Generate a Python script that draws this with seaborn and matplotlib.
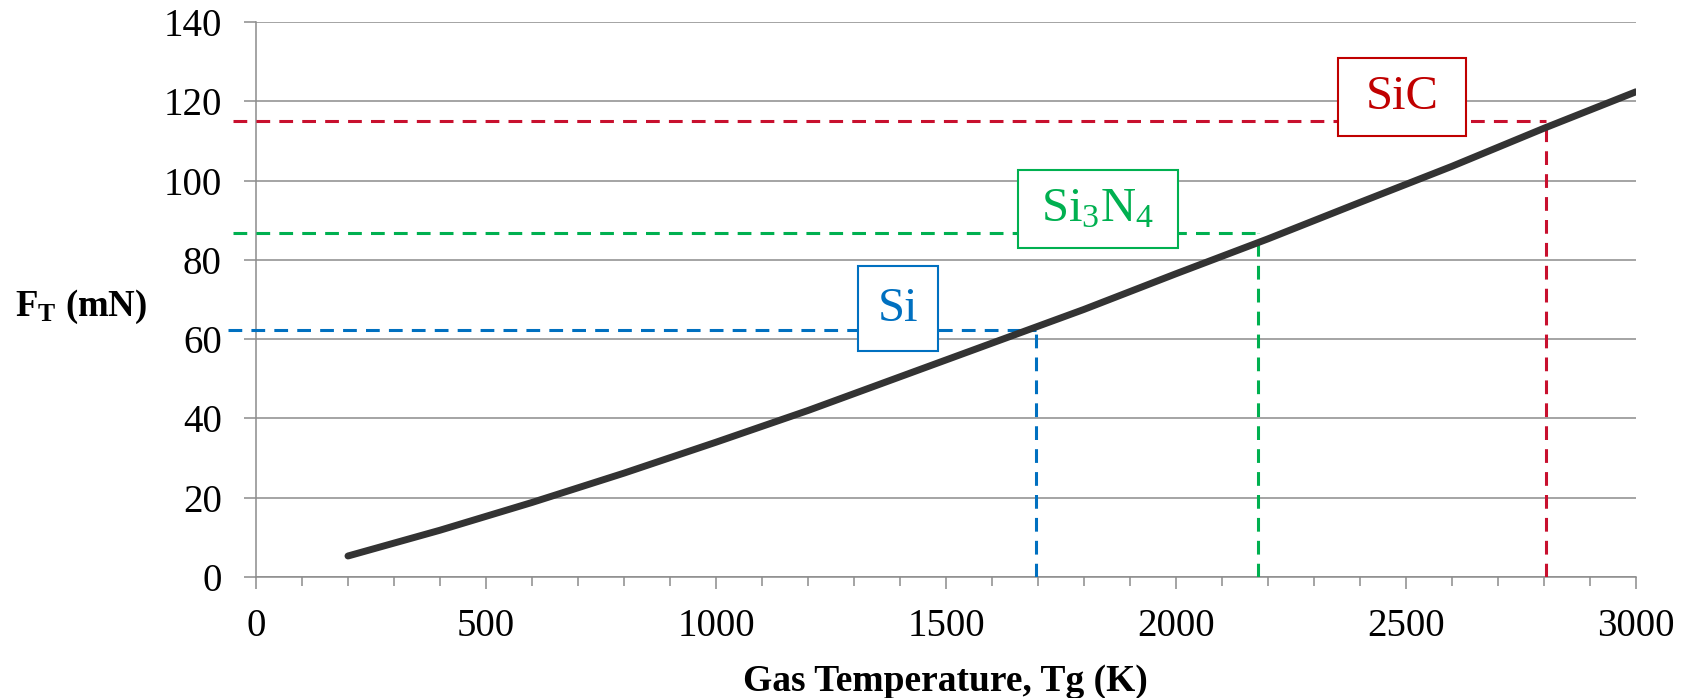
import matplotlib
matplotlib.use("Agg")
import matplotlib.pyplot as plt
import seaborn as sns
import pandas as pd
from matplotlib.patches import Rectangle
from matplotlib.ticker import MultipleLocator

# ---- data ----
temp_K = [200, 400, 600, 800, 1000, 1200, 1400, 1600, 1800, 2000, 2200, 2400, 2600, 2800, 3000]
force_mN = [5.3, 11.8, 18.8, 26.2, 34.0, 42.0, 50.5, 59.0, 67.5, 76.5, 85.3, 94.5, 103.6, 113.2, 122.4]

materials = ["Si", r"Si$_3$N$_4$", "SiC"]
melt_T = [1695, 2178, 2804]
melt_F = [62.2, 86.8, 115.0]
mat_colors = ["#0070C0", "#00B050", "#C8102E"]
box_colors = ["#0070C0", "#00B050", "#C00000"]
box_cx = [1396, 1830, 2491]
box_cy = [67.7, 92.8, 121.1]
box_w = [174, 348, 278]
box_h = [21.4, 19.7, 19.7]

x_ticks = [0, 500, 1000, 1500, 2000, 2500, 3000]
y_ticks = [0, 20, 40, 60, 80, 100, 120, 140]

sns.set_theme(style="white")
plt.rcParams["font.family"] = ["Liberation Serif", "DejaVu Serif"]
plt.rcParams["mathtext.fontset"] = "custom"
plt.rcParams["mathtext.rm"] = "Liberation Serif"
plt.rcParams["mathtext.it"] = "Liberation Serif:italic"
plt.rcParams["mathtext.bf"] = "Liberation Serif:bold"
plt.rcParams["text.color"] = "black"
plt.rcParams["xtick.labelcolor"] = "black"
plt.rcParams["ytick.labelcolor"] = "black"

fig = plt.figure(figsize=(16.94, 6.98), dpi=100)
ax = fig.add_axes([0.15112, 0.17335, 0.81464, 0.79513])

grid_c = "#8c8c8c"
ax.set_xlim(0, 3000)
ax.set_ylim(0, 140)
ax.set_xticks(x_ticks)
ax.set_yticks(y_ticks)
ax.xaxis.set_minor_locator(MultipleLocator(100))
ax.yaxis.grid(True, color=grid_c, lw=1.1, zorder=0)
ax.set_axisbelow(True)
for s in ["top", "right"]:
    ax.spines[s].set_visible(False)
for s in ["left", "bottom"]:
    ax.spines[s].set_color(grid_c)
    ax.spines[s].set_linewidth(1.1)
ax.tick_params(axis="y", which="major", direction="out", length=8.6, width=1.1,
               color=grid_c, labelsize=28, pad=16, left=True, labelcolor="black")
ax.tick_params(axis="x", which="major", direction="out", length=8.6, width=1.1,
               color=grid_c, labelsize=28, pad=14, bottom=True, labelcolor="black")
ax.tick_params(axis="x", which="minor", direction="out", length=6.5, width=1.1,
               color=grid_c, bottom=True)

df = pd.DataFrame({"T": temp_K, "F": force_mN})
sns.lineplot(data=df, x="T", y="F", ax=ax, color="#333333", lw=5,
             solid_capstyle="round", zorder=5)

for name, tx, fy, c, bc, cx, cy, w, h in zip(materials, melt_T, melt_F, mat_colors,
                                             box_colors, box_cx, box_cy, box_w, box_h):
    x0 = -60 if name == "Si" else -50
    ax.plot([x0, tx], [fy, fy], color=c, lw=2.2, dashes=(4.5, 3), clip_on=False, zorder=3)
    ax.plot([tx, tx], [0, fy], color=c, lw=2.2, dashes=(4.5, 3), zorder=3)
    ax.add_patch(Rectangle((cx - w / 2, cy - h / 2), w, h, facecolor="white",
                           edgecolor=bc, lw=1.5, zorder=6))
    ax.text(cx, cy, name, color=bc, fontsize=35, ha="center", va="center", zorder=7)

ax.set_xlabel("")
ax.set_ylabel("")
fig.text(0.5583, 0.024, "Gas Temperature, Tg (K)", fontsize=27, fontweight="bold",
         ha="center", va="center", color="black")
fig.text(15 / 1694, 1 - 307 / 698, r"$\mathbf{F_T}$ (mN)", fontsize=26.5, fontweight="bold",
         ha="left", va="center", color="black")

fig.savefig("out.png", dpi=100)
